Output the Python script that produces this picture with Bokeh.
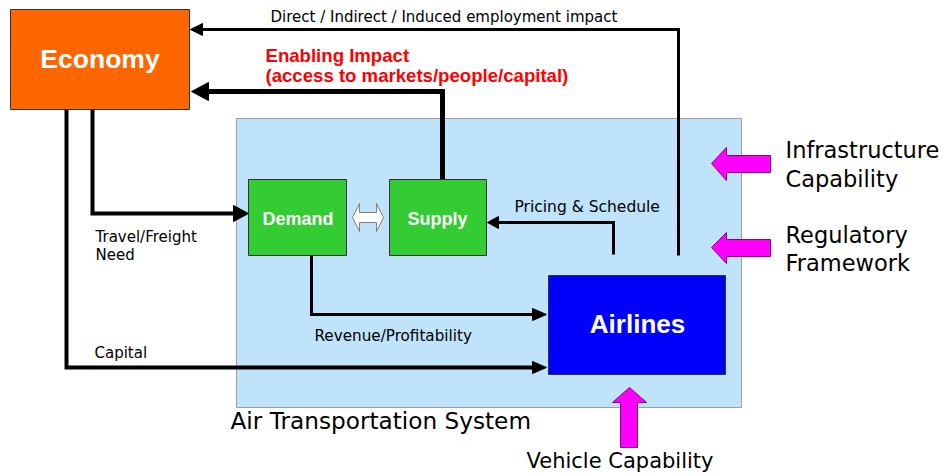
from bokeh.plotting import figure
from bokeh.models import Range1d
from bokeh.core.properties import value
from bokeh.embed import file_html
from bokeh.resources import INLINE

# ---- content (labels) ----
box_labels = ["Economy", "Demand", "Supply", "Airlines"]
flow_labels = ["Direct / Indirect / Induced employment impact",
               "Pricing & Schedule", "Travel/Freight", "Need",
               "Revenue/Profitability", "Capital"]
enabling_labels = ["Enabling Impact", "(access to markets/people/capital)"]
system_label = ["Air Transportation System"]
driver_labels = ["Infrastructure", "Capability", "Regulatory", "Framework"]
vehicle_label = ["Vehicle Capability"]

# ---- geometry (page pixel coordinates) ----
box_left = [10, 248, 389, 548]
box_right = [189, 346, 486, 725]
box_top = [9, 179, 179, 275]
box_bottom = [109, 255, 255, 374]
box_fill = ["#FF6600", "#33CC33", "#33CC33", "#0000FF"]
box_text_x = [99.5, 297.5, 437, 637]
box_text_y = [69, 225, 225, 333]
box_text_size = [26.5, 18, 18, 26]

sys_box = dict(left=236, right=741, top=118, bottom=407)

# connector polylines
lines_xs = [[678, 678, 198], [442, 442, 204], [613, 613, 494],
            [92, 92, 234], [311, 311, 534], [66, 66, 534]]
lines_ys = [[255, 29, 29], [179, 91, 91], [254, 222, 222],
            [109, 213, 213], [255, 314, 314], [109, 367, 367]]
lines_w = [3, 5, 3, 4, 3, 4]

# arrowheads (tip x, tip y, length, half-width, direction)
heads = [(190, 29, 12, 6, "left"), (191, 91, 17, 9, "left"),
         (487, 222, 11, 6, "left"), (248, 213, 15, 8, "right"),
         (546, 314, 14, 6, "right"), (546, 367, 14, 6, "right")]

BASE_SHIFT = 0.38  # baseline correction (in em) for the svg text placement


def by(y, size):
    return y - BASE_SHIFT * size


W, H = 945, 476
p = figure(width=W, height=H, x_range=Range1d(0, W), y_range=Range1d(H, 0),
           min_border=0, output_backend="svg", toolbar_location=None,
           background_fill_color="white", border_fill_color="white")
p.axis.visible = False
p.grid.visible = False
p.outline_line_color = None

# system box
p.quad(left=[sys_box["left"]], right=[sys_box["right"]], top=[sys_box["top"]],
       bottom=[sys_box["bottom"]], fill_color="#BEE3FA", line_color="#A0A0A0", line_width=1)

# connector lines
p.multi_line(xs=lines_xs, ys=lines_ys, line_color="black", line_width=lines_w,
             line_join="miter", line_cap="butt")

hx, hy = [], []
for tx, ty, ln, hw, d in heads:
    s = -1 if d == "left" else 1
    hx.append([tx, tx - s * ln, tx - s * ln])
    hy.append([ty, ty - hw, ty + hw])
p.patches(xs=hx, ys=hy, fill_color="black", line_color="black", line_width=1)

# boxes
p.quad(left=box_left, right=box_right, top=box_top, bottom=box_bottom,
       fill_color=box_fill, line_color="#333333", line_width=1)
for i, lab in enumerate(box_labels):
    s = box_text_size[i]
    p.text(x=[box_text_x[i]], y=[by(box_text_y[i], s)], text=[lab], text_color="white",
           text_font=value("Liberation Sans"), text_font_style="bold",
           text_font_size=f"{s}px", text_align="center", text_baseline="alphabetic")

# double arrow between Demand and Supply
p.patch(x=[352, 359, 359, 376, 376, 383, 376, 376, 359, 359],
        y=[217, 203, 212, 212, 203, 217, 231, 222, 222, 231],
        fill_color="white", line_color="#808080", line_width=1)

# magenta driver arrows
mag_xs = [[711, 726, 726, 770, 770, 726, 726],
          [711, 726, 726, 770, 770, 726, 726],
          [629, 646, 637, 637, 620, 620, 612]]
mag_ys = [[163, 147, 155, 155, 172, 172, 180],
          [247, 232, 239, 239, 256, 256, 263],
          [387, 402, 402, 447, 447, 402, 402]]
p.patches(xs=mag_xs, ys=mag_ys, fill_color="#FF00FF", line_color="#880088", line_width=1)

# flow labels
flow_x = [270, 514, 95, 95, 314, 94]
flow_y = [22, 212, 242, 260, 341, 358]
flow_size = [15, 15.5, 15, 15, 15.2, 15]
for i, lab in enumerate(flow_labels):
    s = flow_size[i]
    p.text(x=[flow_x[i]], y=[by(flow_y[i], s)], text=[lab], text_color="black",
           text_font=value("DejaVu Sans"), text_font_size=f"{s}px",
           text_align="left", text_baseline="alphabetic")

s = 18.6
p.text(x=[265, 265], y=[by(62, s), by(82, s)], text=enabling_labels, text_color="#FF0000",
       text_font=value("Liberation Sans"), text_font_style="bold", text_font_size=f"{s}px",
       text_align="left", text_baseline="alphabetic")

s = 23.2
p.text(x=[230], y=[by(429, s)], text=system_label, text_color="black",
       text_font=value("DejaVu Sans"), text_font_size=f"{s}px",
       text_align="left", text_baseline="alphabetic")

s = 22.5
p.text(x=[785] * 4, y=[by(v, s) for v in [158, 187, 243, 271]], text=driver_labels,
       text_color="black", text_font=value("DejaVu Sans"), text_font_size=f"{s}px",
       text_align="left", text_baseline="alphabetic")

s = 21
p.text(x=[526], y=[by(468, s)], text=vehicle_label, text_color="black",
       text_font=value("DejaVu Sans"), text_font_size=f"{s}px",
       text_align="left", text_baseline="alphabetic")

open("out.html", "w").write(file_html(p, INLINE))
